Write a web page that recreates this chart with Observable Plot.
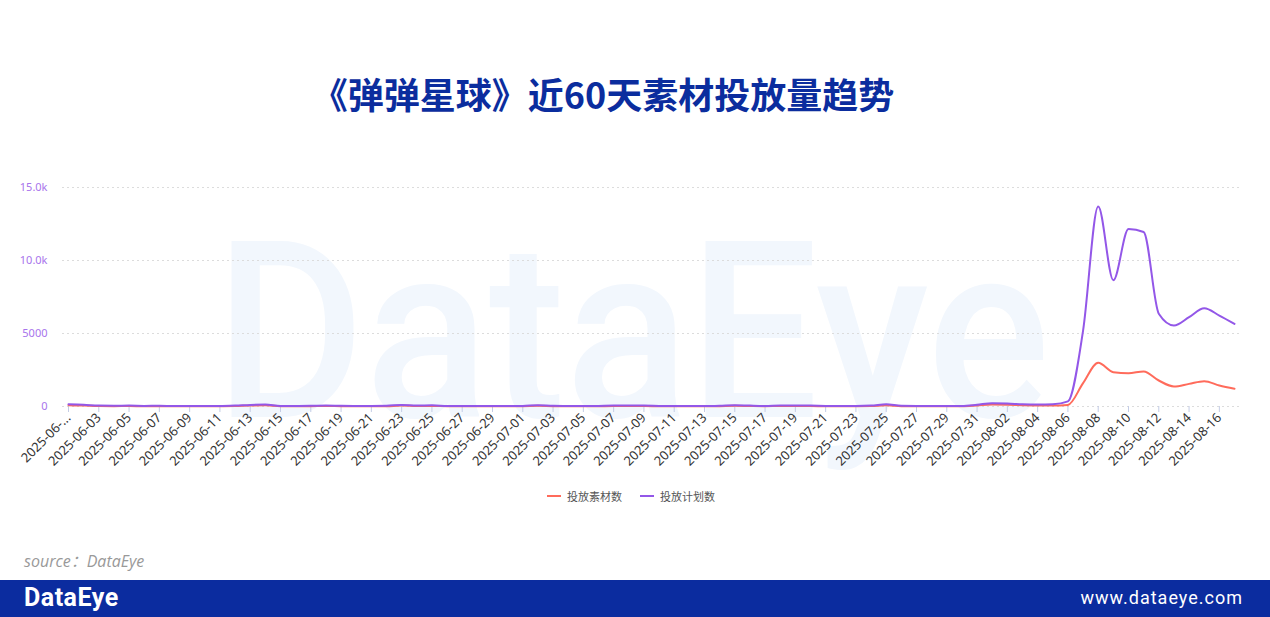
<!DOCTYPE html>
<html>
<head>
<meta charset="utf-8">
<script src="https://cdn.jsdelivr.net/npm/d3@7"></script>
<script src="https://cdn.jsdelivr.net/npm/@observablehq/plot@0.6"></script>
<style>
  html, body { margin:0; padding:0; background:#fff; }
  body { width:1270px; height:617px; position:relative; overflow:hidden; font-family:"Noto Sans CJK SC","Noto Sans",sans-serif; }
  #title { position:absolute; left:0; width:1206px; top:67px; text-align:center; font-size:36px; font-weight:700; color:#0b2d9e; white-space:nowrap; line-height:52px; }
  #wm { position:absolute; left:0; top:0; }
  #chart { position:absolute; left:0; top:170px; }
  #chart g[aria-label="x-axis tick label"] { font-size: 13px !important; }
  #legend { position:absolute; left:-4px; width:1270px; top:488px; display:flex; justify-content:center; gap:18px; font-size:11px; color:#555; }
  #legend .item { display:flex; align-items:center; gap:6px; }
  #legend .sw { width:14px; height:2px; display:inline-block; }
  #source { position:absolute; left:24px; top:548px; font-size:16px; font-style:italic; color:#999; font-family:"Open Sans","Noto Sans CJK SC",sans-serif; }
  #footer { position:absolute; left:0; top:580px; width:1270px; height:37px; background:#0b2c9f; color:#fff; }
  #logo { position:absolute; left:24px; top:3px; font-family:Roboto,sans-serif; font-weight:700; font-size:25px; letter-spacing:0.5px; }
  #url { position:absolute; right:27px; top:7px; font-family:Roboto,sans-serif; font-size:18px; letter-spacing:1px; }
</style>
</head>
<body>
<svg id="wm" width="1270" height="617"><text x="215" y="417" font-family="Roboto, sans-serif" font-weight="500" font-size="246" fill="#f2f7fd" textLength="835" lengthAdjust="spacingAndGlyphs">DataEye</text></svg>
<div id="title">《弹弹星球》近60天素材投放量趋势</div>
<div id="chart"></div>
<div id="legend">
  <div class="item"><span class="sw" style="background:#ff6b5b"></span><span>投放素材数</span></div>
  <div class="item"><span class="sw" style="background:#9357e8"></span><span>投放计划数</span></div>
</div>
<div id="source">source：DataEye</div>
<div id="footer"><div id="logo">DataEye</div><div id="url">www.dataeye.com</div></div>
<script>
// Categories: daily dates 2025-06-01 .. 2025-08-17
const startDate = "2025-06-01";
const endDate = "2025-08-17";
const seriesNames = ["投放素材数", "投放计划数"];
const seriesColors = ["#ff6b5b", "#9357e8"];

// 投放素材数 (materials)
const materials = [
  80, 60, 30, 25, 30, 20, 25, 15, 15, 15,
  20, 30, 70, 80, 20, 20, 25, 40, 25, 20,
  20, 25, 60, 30, 40, 20, 15, 15, 15, 15,
  20, 45, 25, 20, 15, 20, 30, 30, 30, 20,
  15, 15, 15, 25, 45, 30, 20, 35, 30, 30,
  20, 20, 20, 30, 80, 25, 20, 20, 20, 20,
  70, 130, 120, 90, 70, 60, 110, 1600, 3000, 2350,
  2280, 2400, 1780, 1370, 1550, 1730, 1440, 1210
];
// 投放计划数 (plans)
const plans = [
  150, 120, 60, 50, 60, 40, 50, 30, 30, 30,
  40, 60, 110, 130, 40, 40, 50, 70, 50, 40,
  40, 50, 110, 60, 80, 40, 30, 30, 30, 30,
  40, 90, 50, 40, 30, 40, 60, 60, 60, 40,
  30, 30, 30, 50, 90, 60, 40, 70, 60, 60,
  40, 40, 40, 60, 150, 50, 40, 40, 40, 40,
  120, 220, 200, 150, 130, 150, 350, 5200, 13700, 8650,
  12150, 11950, 6350, 5550, 6120, 6730, 6230, 5660
];
const yTicks = [0, 5000, 10000, 15000];
const yTickLabels = ["0", "5000", "10.0k", "15.0k"];

const dates = d3.utcDay.range(new Date(startDate), d3.utcDay.offset(new Date(endDate), 1));
const data = [];
dates.forEach((d, i) => {
  data.push({date: d, value: materials[i], series: seriesNames[0]});
  data.push({date: d, value: plans[i], series: seriesNames[1]});
});
const xTicks = dates.filter((d, i) => i % 2 === 0 && i < dates.length - 1);
const fmt = d3.utcFormat("%Y-%m-%d");

const plot = Plot.plot({
  width: 1270,
  height: 310,
  marginTop: 17,
  marginBottom: 74,
  marginLeft: 68,
  marginRight: 36,
  style: {background: "transparent", fontFamily: "'Noto Sans', 'Noto Sans CJK SC', sans-serif", fontSize: "12px"},
  x: {type: "utc", domain: [dates[0], dates[dates.length - 1]]},
  y: {domain: [0, 15000]},
  color: {domain: seriesNames, range: seriesColors},
  marks: [
    Plot.ruleY(yTicks, {stroke: "#dcdcdc", strokeDasharray: "2,3", insetLeft: -6, insetRight: -6}),
    Plot.axisY({ticks: yTicks, tickFormat: d => yTickLabels[yTicks.indexOf(d)], tickSize: 0, tickPadding: 21, fill: "#a874ec", fontSize: 11, label: null}),
    Plot.axisX({ticks: xTicks, tickSize: 6, tickPadding: 3, stroke: "#c4cde6", fill: "#333", fontSize: 13, tickRotate: -45, label: null,
      tickFormat: (d) => (+d === +dates[0] ? "2025-06-..." : fmt(d))}),
    Plot.lineY(data, {x: "date", y: "value", z: "series", stroke: "series", strokeWidth: 2, curve: "monotone-x"})
  ]
});
document.getElementById("chart").appendChild(plot);
</script>
</body>
</html>
